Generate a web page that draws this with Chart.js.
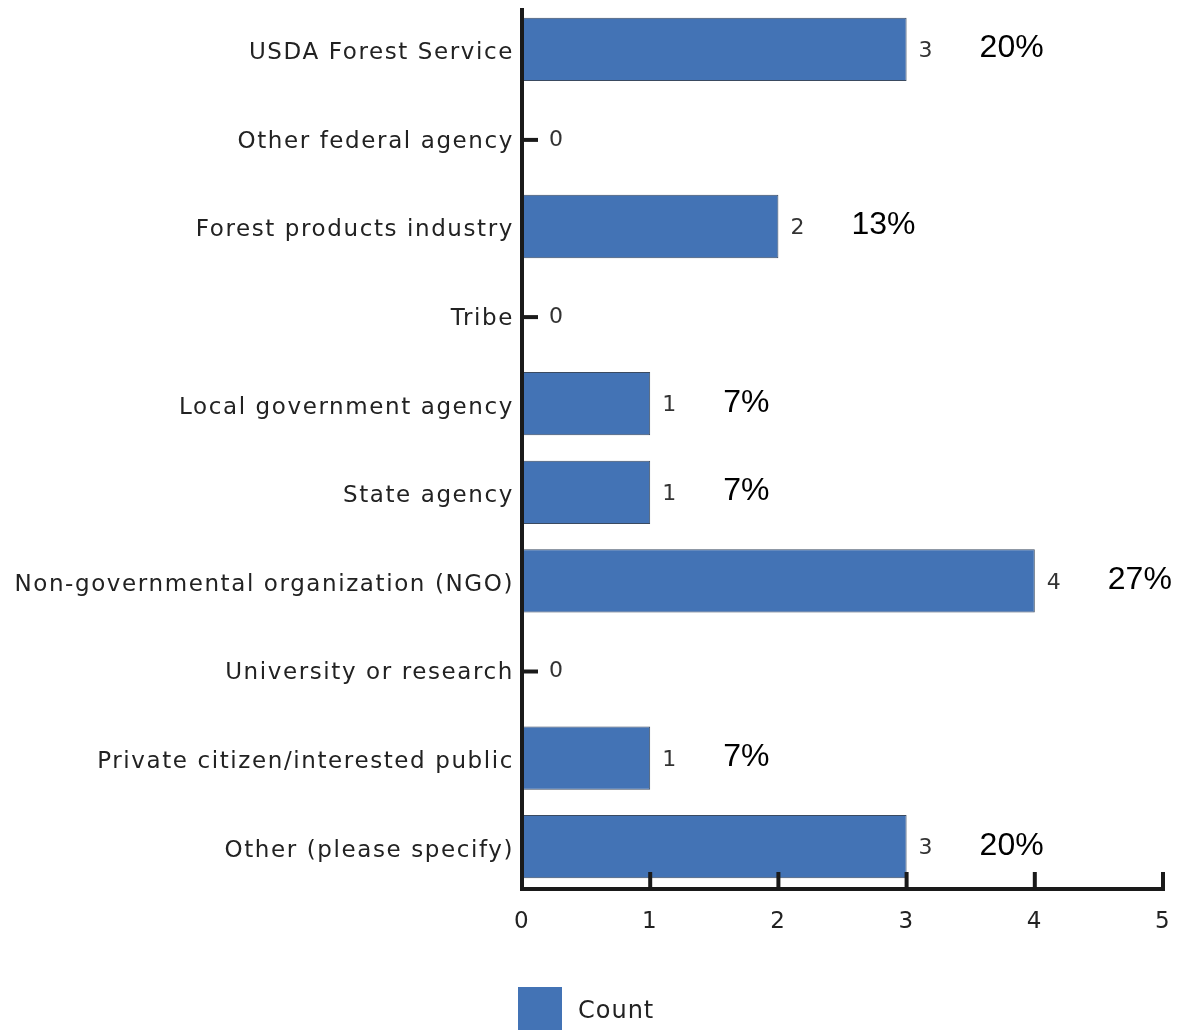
<!DOCTYPE html>
<html>
<head>
<meta charset="utf-8">
<script src="https://cdn.jsdelivr.net/npm/chart.js@4/dist/chart.umd.min.js"></script>
<style>
  html, body { margin: 0; padding: 0; background: #fff; }
  #wrap { width: 1197px; height: 1030px; position: relative; }
</style>
</head>
<body>
<div id="wrap"><canvas id="c" width="1197" height="1030"></canvas></div>
<script>
// Respondent affiliation counts
const categories = [
  'USDA Forest Service',
  'Other federal agency',
  'Forest products industry',
  'Tribe',
  'Local government agency',
  'State agency',
  'Non-governmental organization (NGO)',
  'University or research',
  'Private citizen/interested public',
  'Other (please specify)'
];
const counts = [3, 0, 2, 0, 1, 1, 4, 0, 1, 3];
const xTicks = [0, 1, 2, 3, 4, 5];
const seriesName = 'Count';

const total = counts.reduce((a, b) => a + b, 0);
const percentLabels = counts.map(v => v > 0 ? Math.round(v / total * 100) + '%' : '');

const BAR_FILL = '#4373b5';
const BAR_EDGE = '#3a4a60';
const labelFont = '"DejaVu Sans", "Noto Sans", sans-serif';

// Widen the tracking of the axis labels
const tracking = {
  id: 'tracking',
  beforeDraw(chart) { chart.ctx.letterSpacing = '1.6px'; },
  afterDatasetsDraw(chart) { chart.ctx.letterSpacing = '0px'; }
};

// Axes drawn as heavy black lines with inward ticks, plus value labels
const decorations = {
  id: 'decorations',
  afterDatasetsDraw(chart) {
    const { ctx, chartArea, scales } = chart;
    const x = scales.x, y = scales.y;
    const x0 = x.getPixelForValue(0);
    ctx.save();
    ctx.letterSpacing = '0px';
    ctx.strokeStyle = '#1a1a1a';
    ctx.lineWidth = 4;
    ctx.lineCap = 'butt';
    // y axis
    ctx.beginPath();
    ctx.moveTo(x0, chartArea.top + 3);
    ctx.lineTo(x0, chartArea.bottom);
    ctx.stroke();
    // x axis
    const axY = chartArea.bottom - 2;
    ctx.beginPath();
    ctx.moveTo(x0 - 2, axY);
    ctx.lineTo(x.getPixelForValue(xTicks[xTicks.length - 1]) + 2, axY);
    ctx.stroke();
    // inward ticks
    xTicks.forEach(t => {
      const px = x.getPixelForValue(t);
      ctx.beginPath();
      ctx.moveTo(px, axY);
      ctx.lineTo(px, axY - 17);
      ctx.stroke();
    });

    // value labels
    const meta = chart.getDatasetMeta(0);
    ctx.textBaseline = 'middle';
    meta.data.forEach((bar, i) => {
      const v = counts[i];
      const cy = y.getPixelForValue(i);
      let lx;
      if (v === 0) {
        ctx.strokeStyle = '#1a1a1a';
        ctx.lineWidth = 4;
        ctx.beginPath();
        ctx.moveTo(x0, cy + 2);
        ctx.lineTo(x0 + 16, cy + 2);
        ctx.stroke();
        lx = x0 + 27;
      } else {
        lx = x.getPixelForValue(v) + 12;
      }
      ctx.fillStyle = '#333';
      ctx.font = '22px ' + labelFont;
      ctx.textAlign = 'left';
      ctx.fillText(String(v), lx, cy + 2);
      if (percentLabels[i]) {
        ctx.fillStyle = '#000';
        ctx.font = '32px "Liberation Sans", Arial, sans-serif';
        ctx.fillText(percentLabels[i], x.getPixelForValue(v) + 73, cy - 1);
      }
    });

    // legend
    const lgX = 518, lgY = 987;
    ctx.fillStyle = BAR_FILL;
    ctx.fillRect(lgX, lgY, 44, 44);
    ctx.fillStyle = '#222';
    ctx.letterSpacing = '1px';
    ctx.font = '24px ' + labelFont;
    ctx.textAlign = 'left';
    ctx.textBaseline = 'middle';
    ctx.fillText(seriesName, lgX + 60, lgY + 25);
    ctx.restore();
  }
};

new Chart(document.getElementById('c'), {
  type: 'bar',
  data: {
    labels: categories,
    datasets: [{
      label: seriesName,
      data: counts,
      backgroundColor: BAR_FILL,
      borderColor: BAR_EDGE,
      borderWidth: 1,
      borderSkipped: false,
      categoryPercentage: 1,
      barPercentage: 0.715
    }]
  },
  options: {
    indexAxis: 'y',
    responsive: false,
    animation: false,
    layout: { padding: { top: 5, right: 34, bottom: 0, left: 0 } },
    plugins: { legend: { display: false }, tooltip: { enabled: false } },
    scales: {
      x: {
        min: 0, max: 5,
        afterFit(s) { s.height = 139; s.paddingLeft = 0; s.paddingRight = 0; },
        afterBuildTicks(s) { s.ticks = xTicks.map(v => ({ value: v })); },
        grid: { display: false },
        border: { display: false },
        ticks: {
          color: '#222',
          padding: 9,
          font: { family: labelFont, size: 23 }
        }
      },
      y: {
        afterFit(s) { s.width = 522; s.paddingTop = 0; s.paddingBottom = 0; },
        grid: { display: false, drawTicks: false },
        border: { display: false },
        ticks: {
          color: '#222',
          padding: 8,
          labelOffset: 4,
          font: { family: labelFont, size: 23 }
        }
      }
    }
  },
  plugins: [tracking, decorations]
});
</script>
</body>
</html>
